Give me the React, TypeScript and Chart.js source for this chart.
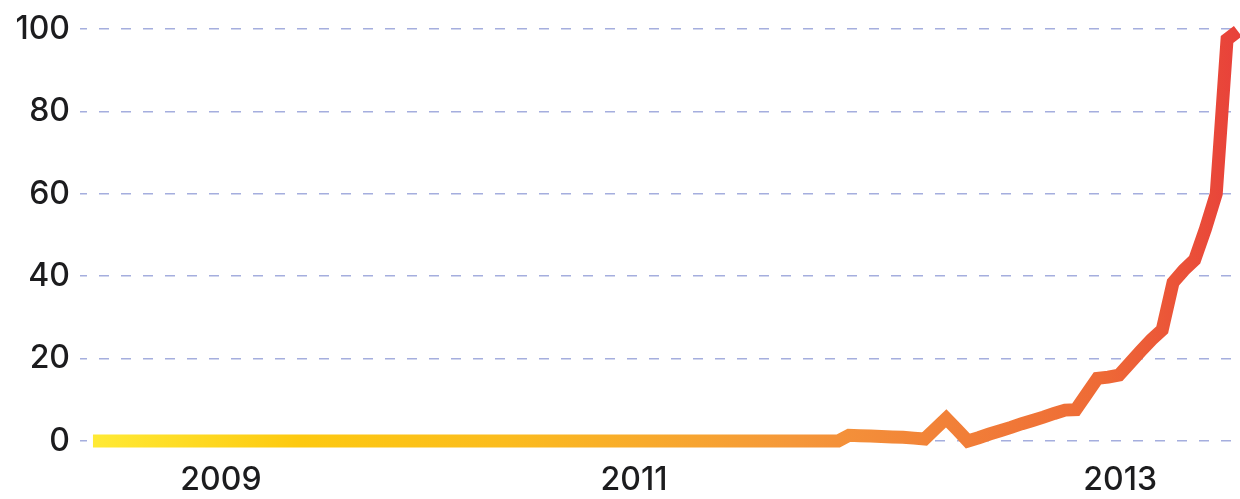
import React, { useEffect, useRef } from "react";
import { Chart, registerables } from "chart.js";

Chart.register(...registerables);

// Interest index, one value per period (oldest first)
const interestValues: number[] = [
  0, 0, 0, 0, 0, 0, 0, 0, 0, 0,
  0, 0, 0, 0, 0, 0, 0, 0, 0, 0,
  0, 0, 0, 0, 0, 0, 0, 0, 0, 0,
  0, 0, 0, 0, 0, 0, 0, 0, 0, 0,
  0, 0, 0, 0, 0, 0, 0, 0, 0, 0,
  0, 0, 0, 0, 0, 0, 0, 0, 0, 0,
  0, 0, 0, 0, 0, 0, 0, 0, 0, 0,
  1.4, 1.3, 1.2, 1.1, 1.0, 0.9, 0.7, 0.5,
  3.0, 5.5, 2.8, 0,
  0.8, 1.7, 2.5, 3.3, 4.2, 5.0, 5.8, 6.7, 7.5,
  7.6, 11.4, 15.2, 15.5, 16.0,
  18.9, 21.8, 24.6, 27.0,
  38.5, 41.5, 44.0, 51.5, 60.0, 97.5, 99.5,
];

// Year labels and the period positions where they sit
const xTickLabels: string[] = ["2009", "2011", "2013"];
const xTickPeriods: number[] = [11.85, 50.1, 95.1];

const yTickValues: number[] = [0, 20, 40, 60, 80, 100];

const gradientStops: [number, string][] = [
  [0, "#ffea35"],
  [0.18, "#fdc910"],
  [0.36, "#fbbc1e"],
  [0.61, "#f5983a"],
  [0.88, "#ee6a36"],
  [1, "#e8413a"],
];

const FONT = { family: "Inter, 'Noto Sans', sans-serif", size: 32, weight: "500" };

export default function App() {
  const canvasRef = useRef<HTMLCanvasElement | null>(null);

  useEffect(() => {
    const canvas = canvasRef.current;
    if (!canvas) return;
    const lastIndex = interestValues.length - 1;

    const chart = new Chart(canvas, {
      type: "line",
      data: {
        datasets: [
          {
            data: interestValues.map((v, i) => ({ x: i, y: v })),
            borderColor: (ctx: any) => {
              const c = ctx.chart;
              const area = c.chartArea;
              const xs = c.scales.x;
              if (!area || !xs) return gradientStops[0][1];
              const x0 = xs.getPixelForValue(0);
              const x1 = xs.getPixelForValue(lastIndex);
              const g = c.ctx.createLinearGradient(x0, 0, x1, 0);
              gradientStops.forEach(([o, col]) => g.addColorStop(o, col));
              return g;
            },
            borderWidth: 13,
            borderCapStyle: "butt",
            borderJoinStyle: "miter",
            pointRadius: 0,
            pointHoverRadius: 0,
            tension: 0,
            fill: false,
            clip: 10,
          },
        ],
      },
      options: {
        animation: false,
        responsive: false,
        devicePixelRatio: 1,
        events: [],
        layout: { padding: { top: 26, right: 0, bottom: 0, left: 0 } },
        plugins: {
          legend: { display: false },
          tooltip: { enabled: false },
          title: { display: false },
        },
        scales: {
          x: {
            type: "linear",
            min: -1.2,
            max: 106.2,
            grid: { display: false, drawTicks: false },
            border: { display: false },
            afterBuildTicks: (s: any) => {
              s.ticks = xTickPeriods.map((v) => ({ value: v }));
            },
            afterFit: (s: any) => {
              s.height = 58;
            },
            ticks: {
              autoSkip: false,
              maxRotation: 0,
              minRotation: 0,
              padding: 20,
              color: "#1c1c1e",
              font: FONT,
              callback: (_v: any, i: number) => xTickLabels[i],
            },
          },
          y: {
            min: 0,
            max: 100,
            afterBuildTicks: (s: any) => {
              s.ticks = yTickValues.map((v) => ({ value: v }));
            },
            afterFit: (s: any) => {
              s.width = 80;
            },
            grid: {
              color: "rgba(105,120,200,0.6)",
              lineWidth: 1.6,
              drawTicks: false,
            },
            border: { display: false, dash: [10, 12], dashOffset: 3 },
            ticks: {
              padding: 10,
              color: "#1c1c1e",
              font: FONT,
              callback: (v: any) => String(v),
            },
          },
        },
      },
    } as any);

    return () => chart.destroy();
  }, []);

  return (
    <div
      style={{
        position: "fixed",
        left: 0,
        top: 0,
        width: 1240,
        height: 499,
        background: "#ffffff",
      }}
    >
      <canvas ref={canvasRef} width={1240} height={499} style={{ display: "block" }} />
    </div>
  );
}
